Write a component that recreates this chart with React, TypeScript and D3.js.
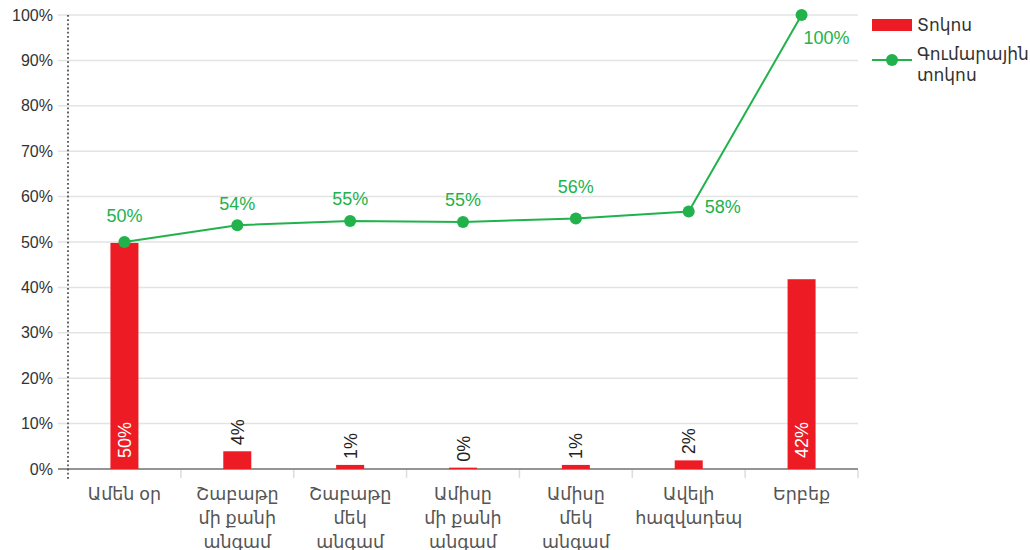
import React from "react";
import * as d3 from "d3";

const categories: string[][] = [
  ["Ամեն օր"],
  ["Շաբաթը", "մի քանի", "անգամ"],
  ["Շաբաթը", "մեկ", "անգամ"],
  ["Ամիսը", "մի քանի", "անգամ"],
  ["Ամիսը", "մեկ", "անգամ"],
  ["Ավելի", "հազվադեպ"],
  ["Երբեք"],
];
const barValues = [49.8, 3.9, 0.9, 0.3, 0.9, 1.9, 41.8];
const barLabels = ["50%", "4%", "1%", "0%", "1%", "2%", "42%"];
const cumValues = [50, 53.7, 54.6, 54.4, 55.2, 56.7, 100];
const cumLabels = ["50%", "54%", "55%", "55%", "56%", "58%", "100%"];
const yTicks = [0, 10, 20, 30, 40, 50, 60, 70, 80, 90, 100];
const seriesNames = ["Տոկոս", ["Գումարային", "տոկոս"]];

const W = 1030, H = 550;
const left = 68, right = 858, top = 15, bottom = 469;
const RED = "#ed1c24";
const GREEN = "#22b24c";
const FONT = "'Liberation Sans', Arial, 'DejaVu Sans', sans-serif";

export default function App() {
  const x = d3.scaleBand<number>().domain(d3.range(categories.length)).range([left, right]).paddingInner(0).paddingOuter(0);
  const y = d3.scaleLinear().domain([0, 100]).range([bottom, top]);
  const bw = 28;
  const cx = (i: number) => (x(i) as number) + x.bandwidth() / 2;
  const line = d3.line<number>().x((_, i) => cx(i)).y((d) => y(d));
  const labelOffsets: [number, number, string][] = [
    [0, -26, "middle"], [0, -22, "middle"], [0, -22, "middle"], [0, -22, "middle"], [0, -32, "middle"], [16, -5, "start"], [2, 23, "start"],
  ];
  return (
    <svg width={W} height={H} style={{ position: "absolute", left: 0, top: 0 }} fontFamily={FONT}>
      <rect width={W} height={H} fill="#fff" />
      {yTicks.map((t) => (
        <g key={t}>
          <line x1={58} x2={right} y1={y(t)} y2={y(t)} stroke="#e3e3e3" strokeWidth={1.5} />
          <text x={53} y={y(t)} dy="0.35em" textAnchor="end" fontSize={16} fill="#333">{t}%</text>
        </g>
      ))}
      <line x1={58} x2={right} y1={bottom} y2={bottom} stroke="#777" strokeWidth={1.5} />
      {d3.range(1, categories.length + 1).map((i) => (
        <line key={i} x1={left + i * x.bandwidth()} x2={left + i * x.bandwidth()} y1={bottom + 1} y2={bottom + 9} stroke="#ddd" strokeWidth={1.5} />
      ))}
      <line x1={left} x2={left} y1={top} y2={bottom + 10} stroke="#555" strokeWidth={1.8} strokeDasharray="1.8,2.4" />
      {categories.map((lines, i) => (
        <text key={i} x={cx(i)} y={500} textAnchor="middle" fontSize={17.5} fill="#555">
          {lines.map((l, j) => (
            <tspan key={j} x={cx(i)} dy={j === 0 ? 0 : 24}>{l}</tspan>
          ))}
        </text>
      ))}
      {barValues.map((v, i) => (
        <rect key={i} x={cx(i) - bw / 2} y={y(v)} width={bw} height={bottom - y(v)} fill={RED} />
      ))}
      {barValues.map((v, i) => {
        const inside = v > 20;
        const yy = inside ? bottom - 11 : y(v) - 6;
        return (
          <text key={i} transform={`translate(${cx(i) + 6.5},${yy}) rotate(-90)`} fontSize={18} fill={inside ? "#fff" : "#222"} textAnchor="start">
            {barLabels[i]}
          </text>
        );
      })}
      <path d={line(cumValues) || ""} fill="none" stroke={GREEN} strokeWidth={2} />
      {cumValues.map((v, i) => (
        <circle key={i} cx={cx(i)} cy={y(v)} r={6} fill={GREEN} />
      ))}
      {cumValues.map((v, i) => (
        <text key={i} x={cx(i) + labelOffsets[i][0]} y={y(v) + labelOffsets[i][1]} dy="0.35em" textAnchor={labelOffsets[i][2] as any} fontSize={18} fill={GREEN}>
          {cumLabels[i]}
        </text>
      ))}
      <rect x={872} y={19} width={40} height={12} fill={RED} />
      <text x={917} y={25} dy="0.35em" fontSize={17} fill="#333">{seriesNames[0] as string}</text>
      <line x1={872} x2={912} y1={60} y2={60} stroke={GREEN} strokeWidth={2} />
      <circle cx={892} cy={60} r={6} fill={GREEN} />
      <text x={917} y={60} dy="0.35em" fontSize={17} fill="#333">
        {(seriesNames[1] as string[]).map((l, j) => (
          <tspan key={j} x={917} dy={j === 0 ? 0 : 21}>{l}</tspan>
        ))}
      </text>
    </svg>
  );
}
